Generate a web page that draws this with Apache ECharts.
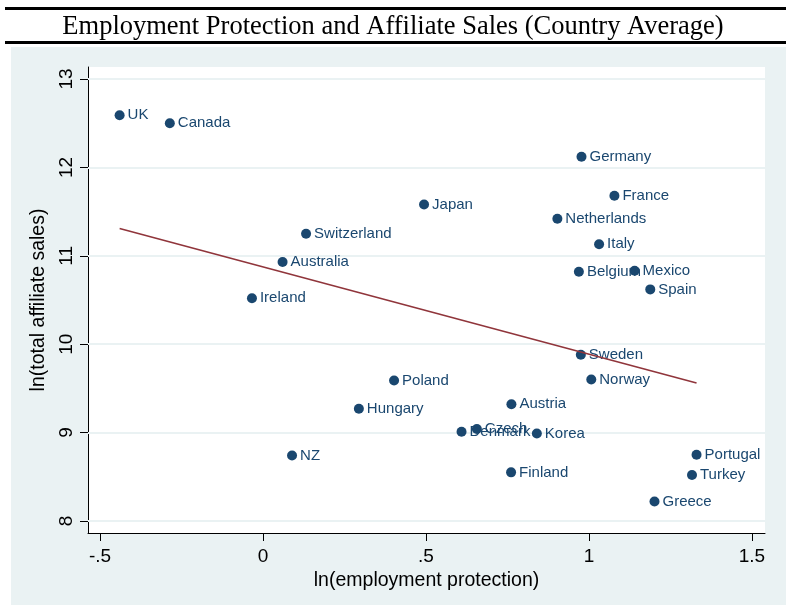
<!DOCTYPE html>
<html>
<head>
<meta charset="utf-8">
<title>Employment Protection and Affiliate Sales</title>
<script src="https://cdn.jsdelivr.net/npm/echarts@6/dist/echarts.min.js"></script>
<style>
  html, body { margin: 0; padding: 0; background: #ffffff; }
  #chart { width: 786px; height: 605px; }
</style>
</head>
<body>
<div id="chart"></div>
<script>
// Country averages: ln(employment protection) vs ln(total affiliate sales)
const countries = ['UK', 'Canada', 'Germany', 'France', 'Japan', 'Netherlands', 'Switzerland',
  'Italy', 'Australia', 'Belgium', 'Mexico', 'Spain', 'Ireland', 'Sweden', 'Poland', 'Norway',
  'Hungary', 'Austria', 'Czech', 'Denmark', 'Korea', 'NZ', 'Portugal', 'Finland', 'Turkey', 'Greece'];
const lnEmploymentProtection = [-0.440, -0.286, 0.977, 1.078, 0.494, 0.903, 0.132,
  1.031, 0.060, 0.969, 1.140, 1.188, -0.034, 0.975, 0.402, 1.007,
  0.294, 0.762, 0.656, 0.609, 0.840, 0.089, 1.330, 0.761, 1.316, 1.201];
const lnAffiliateSales = [12.59, 12.50, 12.12, 11.68, 11.58, 11.42, 11.25,
  11.13, 10.93, 10.82, 10.83, 10.62, 10.52, 9.88, 9.59, 9.60,
  9.27, 9.32, 9.04, 9.01, 8.99, 8.74, 8.75, 8.55, 8.52, 8.22];

// Linear fit drawn across the observed range of x
const fitX = [-0.440, 1.330];
const fitY = [11.31, 9.56];

// Tick labels
const xTicks = [-0.5, 0, 0.5, 1, 1.5];
const xTickLabels = ['-.5', '0', '.5', '1', '1.5'];
const yTicks = [8, 9, 10, 11, 12, 13];
const yTickLabels = ['8', '9', '10', '11', '12', '13'];

const navy = '#1a476f';
const maroon = '#90353b';
const panel = '#eaf2f3';
const sans = 'Liberation Sans, Arial, Helvetica, sans-serif';

const chart = echarts.init(document.getElementById('chart'), null, { renderer: 'canvas' });

const points = countries.map((c, i) => ({ name: c, value: [lnEmploymentProtection[i], lnAffiliateSales[i]] }));
const fitData = fitX.map((x, i) => [x, fitY[i]]);

chart.setOption({
  animation: false,
  backgroundColor: '#ffffff',
  graphic: [
    { type: 'rect', z: -10, silent: true, shape: { x: 11, y: 47, width: 775, height: 558 }, style: { fill: panel } },
    { type: 'line', silent: true, shape: { x1: 5, y1: 8.5, x2: 786, y2: 8.5 }, style: { stroke: '#000', lineWidth: 3 } },
    { type: 'line', silent: true, shape: { x1: 5, y1: 42.5, x2: 786, y2: 42.5 }, style: { stroke: '#000', lineWidth: 3 } },
    {
      type: 'text', silent: true, x: 393, y: 27,
      style: {
        text: 'Employment Protection and Affiliate Sales (Country Average)',
        font: '26.5px "Liberation Serif", "Times New Roman", serif',
        fill: '#000', textAlign: 'center', textVerticalAlign: 'middle'
      }
    }
  ],
  grid: {
    left: 88, top: 67, right: 21, bottom: 72,
    show: true, backgroundColor: '#ffffff', borderWidth: 0
  },
  xAxis: {
    type: 'value', min: -0.537, max: 1.540,
    name: 'ln(employment protection)', nameLocation: 'middle', nameGap: 36,
    nameTextStyle: { fontFamily: sans, fontSize: 19.5, color: '#000' },
    axisLine: { show: true, onZero: false, lineStyle: { color: '#000', width: 1 } },
    axisTick: { show: true, length: 8, customValues: xTicks, lineStyle: { color: '#000' } },
    axisLabel: {
      customValues: xTicks, margin: 14, fontFamily: sans, fontSize: 19, color: '#000',
      formatter: v => xTickLabels[xTicks.findIndex(t => Math.abs(t - v) < 1e-9)]
    },
    splitLine: { show: false }
  },
  yAxis: {
    type: 'value', min: 7.864, max: 13.136,
    name: 'ln(total affiliate sales)', nameLocation: 'middle', nameGap: 34, nameRotate: 90,
    nameTextStyle: { fontFamily: sans, fontSize: 19.5, color: '#000' },
    axisLine: { show: true, onZero: false, lineStyle: { color: '#000', width: 1 } },
    axisTick: { show: true, length: 8, customValues: yTicks, lineStyle: { color: '#000' } },
    axisLabel: {
      customValues: yTicks, rotate: 90, margin: 12, fontFamily: sans, fontSize: 19, color: '#000',
      formatter: v => yTickLabels[yTicks.findIndex(t => Math.abs(t - v) < 1e-9)]
    },
    splitLine: { show: false }
  },
  series: [
    {
      type: 'scatter',
      name: 'grid',
      data: [],
      silent: true,
      z: 1,
      markLine: {
        z: 1,
        silent: true, symbol: 'none', animation: false,
        label: { show: false },
        lineStyle: { color: panel, width: 2, type: 'solid' },
        data: yTicks.map(v => ({ yAxis: v }))
      }
    },
    {
      type: 'scatter',
      name: 'countries',
      data: points,
      symbol: 'circle',
      symbolSize: 10,
      itemStyle: { color: navy, opacity: 1 },
      label: {
        show: true, position: 'right', distance: 3,
        formatter: p => p.name,
        fontFamily: sans, fontSize: 15, color: navy,
        textBorderWidth: 0, textBorderColor: 'transparent'
      },
      labelLayout: { hideOverlap: false },
      z: 3
    },
    {
      type: 'line',
      name: 'fit',
      data: fitData,
      showSymbol: false,
      symbol: 'none',
      lineStyle: { color: maroon, width: 1.6 },
      z: 4
    }
  ]
});
</script>
</body>
</html>
